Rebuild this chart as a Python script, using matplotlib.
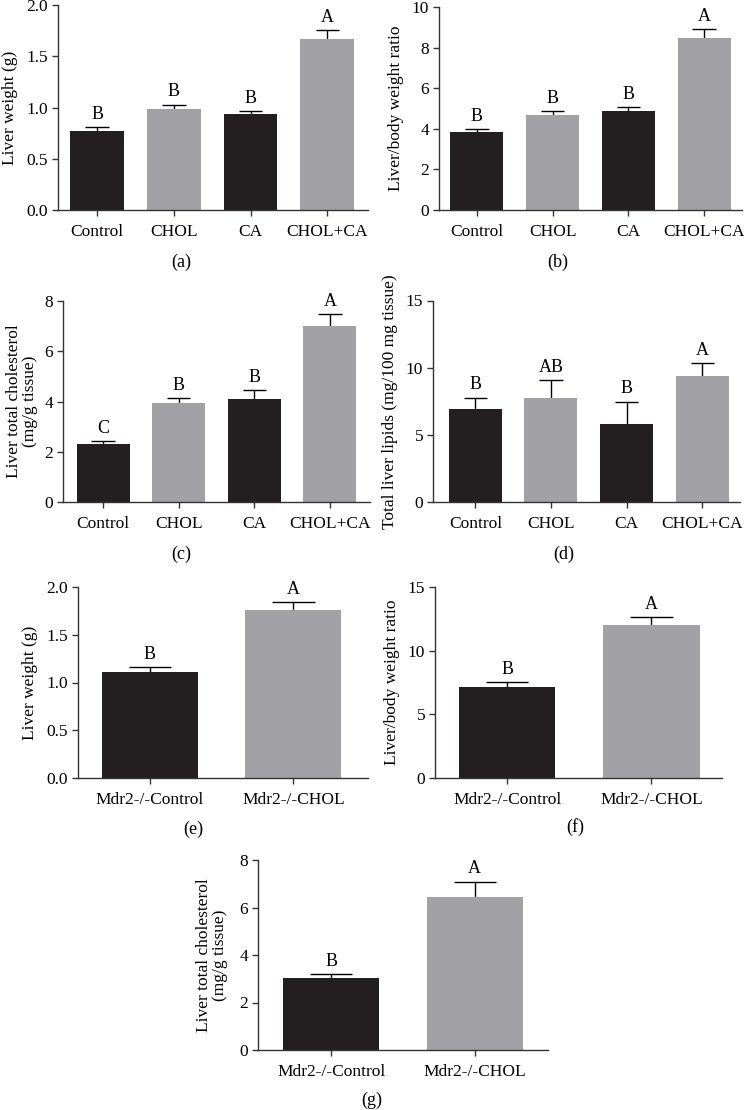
import matplotlib
matplotlib.use("Agg")
import matplotlib.pyplot as plt

plt.rcParams['font.family'] = ['Liberation Serif', 'DejaVu Serif']
plt.rcParams['font.size'] = 12.5

BLACK = '#231f20'
GREY = '#a2a1a6'

groups4 = ['Control', 'CHOL', 'CA', 'CHOL+CA']
groups2 = ['Mdr2-/-Control', 'Mdr2-/-CHOL']

# (a) liver weight
liver_wt = [0.775, 0.982, 0.937, 1.668]
liver_wt_err = [0.038, 0.046, 0.032, 0.088]
liver_wt_sig = ['B', 'B', 'B', 'A']

# (b) liver/body weight ratio
ratio = [3.82, 4.67, 4.88, 8.47]
ratio_err = [0.18, 0.21, 0.17, 0.46]
ratio_sig = ['B', 'B', 'B', 'A']

# (c) liver total cholesterol
chol = [2.29, 3.94, 4.11, 6.99]
chol_err = [0.14, 0.19, 0.34, 0.49]
chol_sig = ['C', 'B', 'B', 'A']

# (d) total liver lipids
lipids = [6.93, 7.72, 5.77, 9.38]
lipids_err = [0.84, 1.34, 1.71, 0.99]
lipids_sig = ['B', 'AB', 'B', 'A']

# (e)-(g) Mdr2-/- mice
mdr_wt = [1.11, 1.763]
mdr_wt_err = [0.049, 0.08]
mdr_ratio = [7.15, 12.04]
mdr_ratio_err = [0.36, 0.63]
mdr_chol = [3.02, 6.43]
mdr_chol_err = [0.19, 0.66]
mdr_sig = ['B', 'A']

W, H = 744, 1110
fig = plt.figure(figsize=(W / 100, H / 100), dpi=100)


def panel(box, cats, vals, errs, sig, ymax, yticks, ticklabels, ylabel,
          xlim, tag, tag_xy, width=0.7, labelpad=6):
    x0, x1, ytop, yzero = box
    ax = fig.add_axes([x0 / W, 1 - yzero / H, (x1 - x0) / W, (yzero - ytop) / H])
    xs = list(range(len(cats)))
    colors = [BLACK if i % 2 == 0 else GREY for i in xs]
    ax.bar(xs, vals, width=width, color=colors, zorder=2)
    half = width * 0.22
    for x, v, e, s in zip(xs, vals, errs, sig):
        # one-sided error bar: stem from bar top, cap on top
        ax.vlines(x, v, v + e, color='black', lw=1, zorder=1)
        ax.hlines(v + e, x - half, x + half, color='black', lw=1, zorder=1)
        ax.annotate(s, (x, v + e), xytext=(0, 3), textcoords='offset points',
                    ha='center', va='bottom', fontsize=13)
    ax.set_xlim(*xlim)
    ax.set_ylim(0, ymax)
    ax.set_yticks(yticks)
    ax.set_yticklabels(ticklabels)
    ax.set_xticks(xs)
    ax.set_xticklabels(cats)
    ax.set_ylabel(ylabel, labelpad=labelpad, linespacing=1.0)
    for side in ['top', 'right']:
        ax.spines[side].set_visible(False)
    for side in ['left', 'bottom']:
        ax.spines[side].set_color('#333333')
        ax.spines[side].set_linewidth(1)
    ax.tick_params(direction='out', length=4, width=1, color='#333333',
                   labelsize=12.5, pad=3)
    ax.tick_params(axis='x', pad=6)
    fig.text(tag_xy[0] / W, 1 - tag_xy[1] / H, tag, ha='center', va='center',
             fontsize=13)
    return ax


panel((58, 368, 5, 210), groups4, liver_wt, liver_wt_err, liver_wt_sig,
      2.0, [0, 0.5, 1.0, 1.5, 2.0], ['0.0', '0.5', '1.0', '1.5', '2.0'],
      'Liver weight (g)', (-0.51, 3.53), '(a)', (181, 262), labelpad=6)

panel((439, 742, 7, 210), groups4, ratio, ratio_err, ratio_sig,
      10, [0, 2, 4, 6, 8, 10], ['0', '2', '4', '6', '8', '10'],
      'Liver/body weight ratio', (-0.5, 3.5), '(b)', (558, 262))

panel((63, 370, 301, 502), groups4, chol, chol_err, chol_sig,
      8, [0, 2, 4, 6, 8], ['0', '2', '4', '6', '8'],
      'Liver total cholesterol\n(mg/g tissue)', (-0.53, 3.53), '(c)', (181, 554),
      labelpad=5)

panel((433, 740, 300.5, 502), groups4, lipids, lipids_err, lipids_sig,
      15, [0, 5, 10, 15], ['0', '5', '10', '15'],
      'Total liver lipids (mg/100 mg tissue)', (-0.56, 3.5), '(d)', (564, 554))

panel((78, 368, 587, 778), groups2, mdr_wt, mdr_wt_err, mdr_sig,
      2.0, [0, 0.5, 1.0, 1.5, 2.0], ['0.0', '0.5', '1.0', '1.5', '2.0'],
      'Liver weight (g)', (-0.5, 1.52), '(e)', (193, 829), width=0.67)

panel((435, 722, 587, 778), groups2, mdr_ratio, mdr_ratio_err, mdr_sig,
      15, [0, 5, 10, 15], ['0', '5', '10', '15'],
      'Liver/body weight ratio', (-0.5, 1.49), '(f)', (575, 827), width=0.67)

panel((258, 548, 860, 1050), groups2, mdr_chol, mdr_chol_err, mdr_sig,
      8, [0, 2, 4, 6, 8], ['0', '2', '4', '6', '8'],
      'Liver total cholesterol\n(mg/g tissue)', (-0.51, 1.51), '(g)', (372, 1100),
      width=0.67, labelpad=8)

fig.savefig('out.png', dpi=100)
